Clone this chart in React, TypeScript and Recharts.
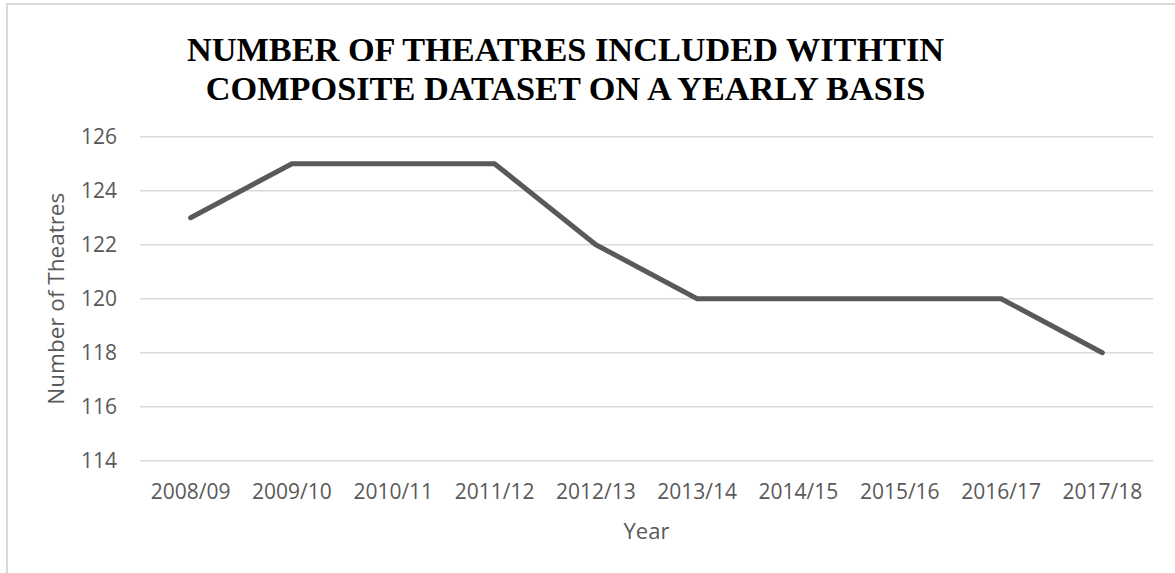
import { LineChart, Line, XAxis, YAxis, CartesianGrid, Label } from 'recharts'

// Yearly theatre counts
const years = ['2008/09', '2009/10', '2010/11', '2011/12', '2012/13', '2013/14', '2014/15', '2015/16', '2016/17', '2017/18']
const theatres = [123, 125, 125, 125, 122, 120, 120, 120, 120, 118]
const yTicks = [114, 116, 118, 120, 122, 124, 126]

const titleLines = ['NUMBER OF THEATRES INCLUDED WITHTIN', 'COMPOSITE DATASET ON A YEARLY BASIS']

const axisFont = '"Open Sans", sans-serif'
const textGray = '#595959'

export default function App() {
  const chartData = years.map((year, i) => ({ year, theatres: theatres[i] }))

  // Rotated y-axis title, placed inside the axis box
  const YTitle = ({ viewBox }: any) => {
    const cx = viewBox.x + 56
    const cy = viewBox.y + viewBox.height / 2
    return (
      <text
        x={cx}
        y={cy}
        transform={`rotate(-90, ${cx}, ${cy})`}
        textAnchor="middle"
        dominantBaseline="central"
        fill={textGray}
        fontSize={22.5}
        fontFamily={axisFont}
      >
        Number of Theatres
      </text>
    )
  }

  return (
    <div style={{ position: 'fixed', left: 0, top: 0, width: 1175, height: 573, overflow: 'hidden', background: '#fff' }}>
      <div style={{ position: 'absolute', left: 6, top: 3, width: 1300, height: 700, border: '2px solid #d9d9d9' }} />
      <div
        style={{
          position: 'absolute',
          left: 0,
          top: 30,
          width: 1131,
          textAlign: 'center',
          fontFamily: '"Liberation Serif", "Times New Roman", serif',
          fontWeight: 'bold',
          fontSize: 34.3,
          lineHeight: '39px',
          color: '#000',
        }}
      >
        {titleLines.map(line => (
          <div key={line}>{line}</div>
        ))}
      </div>
      <div style={{ position: 'absolute', left: 0, top: 0 }}>
        <LineChart width={1175} height={573} data={chartData} margin={{ top: 136.7, right: 22, left: 0, bottom: 0 }}>
          <CartesianGrid vertical={false} stroke="#d9d9d9" strokeWidth={1.5} />
          <XAxis
            dataKey="year"
            height={112.3}
            padding={{ left: 50.65, right: 50.65 }}
            axisLine={false}
            tickLine={false}
            tickSize={6}
            tickMargin={17}
            tick={{ fill: textGray, fontSize: 21, fontFamily: axisFont }}
            interval={0}
          >
            <Label
              value="Year"
              position="insideTop"
              offset={63}
              fill={textGray}
              fontSize={22}
              fontFamily={axisFont}
            />
          </XAxis>
          <YAxis
            width={140}
            domain={[114, 126]}
            ticks={yTicks}
            axisLine={false}
            tickLine={false}
            tickSize={6}
            tickMargin={17}
            tick={{ fill: textGray, fontSize: 21, fontFamily: axisFont }}
          >
            <Label content={<YTitle />} />
          </YAxis>
          <Line
            type="linear"
            dataKey="theatres"
            stroke="#595959"
            strokeWidth={5}
            strokeLinecap="round"
            strokeLinejoin="round"
            dot={false}
            activeDot={false}
            isAnimationActive={false}
          />
        </LineChart>
      </div>
    </div>
  )
}
